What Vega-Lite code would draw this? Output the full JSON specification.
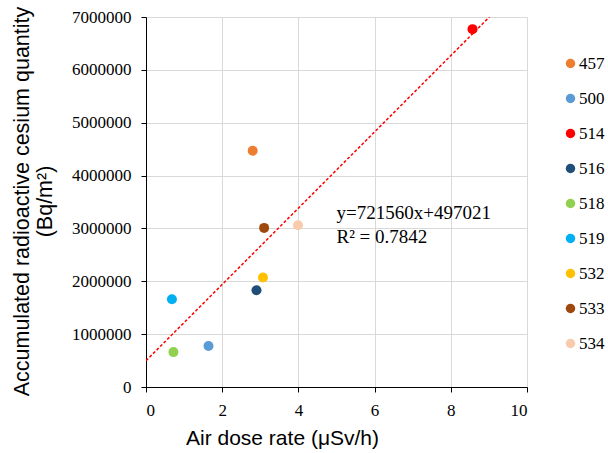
{
  "$schema": "https://vega.github.io/schema/vega-lite/v6.json",
  "width": 381,
  "height": 370,
  "autosize": {"type": "none"},
  "padding": {"left": 146, "top": 17, "right": 81, "bottom": 66},
  "background": "white",
  "config": {
    "view": {"stroke": null},
    "axis": {
      "grid": true,
      "gridColor": "#d9d9d9",
      "gridWidth": 1,
      "domainColor": "black",
      "domainWidth": 1,
      "tickColor": "black",
      "tickSize": 5,
      "labelColor": "black",
      "titleColor": "black"
    }
  },
  "datasets": {
    "points": [
      {"id": "457", "dose": 2.80, "cs": 4470000},
      {"id": "500", "dose": 1.64, "cs": 775000},
      {"id": "514", "dose": 8.57, "cs": 6770000},
      {"id": "516", "dose": 2.90, "cs": 1830000},
      {"id": "518", "dose": 0.72, "cs": 660000},
      {"id": "519", "dose": 0.68, "cs": 1660000},
      {"id": "532", "dose": 3.07, "cs": 2070000},
      {"id": "533", "dose": 3.10, "cs": 3010000},
      {"id": "534", "dose": 3.99, "cs": 3060000}
    ],
    "trend": [
      {"dose": 0, "cs": 497021},
      {"dose": 9.012, "cs": 7000000}
    ],
    "note": [
      {"dose": 5.0, "cs": 3180000, "label": "y=721560x+497021\nR² = 0.7842"}
    ]
  },
  "layer": [
    {
      "data": {"name": "trend"},
      "mark": {"type": "line", "color": "#ff0000", "strokeWidth": 1.5, "strokeDash": [3, 2], "clip": true},
      "encoding": {
        "x": {"field": "dose", "type": "quantitative", "scale": {"domain": [0, 10]},
          "axis": {"values": [0, 2, 4, 6, 8, 10], "title": "Air dose rate (μSv/h)", "labelPadding": 10,
            "labelFont": "Liberation Serif", "labelFontSize": 17,
            "titleFont": "Liberation Sans", "titleFontSize": 21, "titleFontWeight": "normal",
            "titleX": 136, "titleY": 57, "titleBaseline": "alphabetic", "titleAlign": "center"}},
        "y": {"field": "cs", "type": "quantitative", "scale": {"domain": [0, 7000000]},
          "axis": {"values": [0, 1000000, 2000000, 3000000, 4000000, 5000000, 6000000, 7000000], "format": "d", "labelPadding": 10,
            "labelFont": "Liberation Serif", "labelFontSize": 17,
            "titleFont": "Liberation Sans", "titleFontSize": 21.5, "titleFontWeight": "normal",
            "titleX": -118, "titleY": 184, "titleAngle": -90, "titleBaseline": "alphabetic", "titleAlign": "center",
            "title": ["Accumulated radioactive cesium quantity", "(Bq/m²)"], "titleLineHeight": 23}}
      }
    },
    {
      "data": {"name": "points"},
      "mark": {"type": "point", "shape": "circle", "filled": true, "opacity": 1, "size": 100},
      "encoding": {
        "x": {"field": "dose", "type": "quantitative"},
        "y": {"field": "cs", "type": "quantitative"},
        "color": {"field": "id", "type": "nominal",
          "scale": {"domain": ["457", "500", "514", "516", "518", "519", "532", "533", "534"],
            "range": ["#ED7D31", "#5B9BD5", "#FF0000", "#1F4E79", "#92D050", "#00B0F0", "#FFC000", "#9E480E", "#F8CBAD"]},
          "legend": {"title": null, "orient": "none", "legendX": 416, "legendY": 38, "symbolSize": 90, "rowPadding": 17, "symbolOffset": 0, "labelOffset": 0, "symbolStrokeWidth": 0,
            "labelFont": "Liberation Serif", "labelFontSize": 17, "labelColor": "black"}}
      }
    },
    {
      "data": {"name": "note"},
      "mark": {"type": "text", "align": "left", "baseline": "alphabetic", "font": "Liberation Serif", "fontSize": 19, "color": "black", "lineBreak": "\n", "lineHeight": 24},
      "encoding": {
        "x": {"field": "dose", "type": "quantitative"},
        "y": {"field": "cs", "type": "quantitative"},
        "text": {"field": "label"}
      }
    }
  ]
}
